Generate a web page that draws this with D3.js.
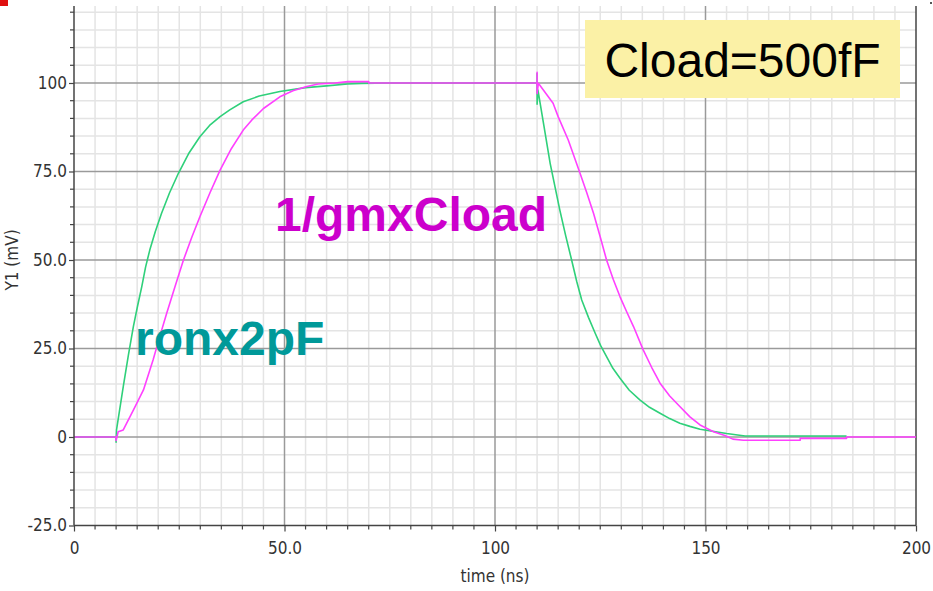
<!DOCTYPE html>
<html>
<head>
<meta charset="utf-8">
<script src="https://cdn.jsdelivr.net/npm/d3@7"></script>
<style>
  html, body { margin: 0; padding: 0; background: #ffffff; }
  svg { display: block; }
  .tick text { font-family: "DejaVu Sans Condensed", "DejaVu Sans", sans-serif; font-size: 17px; fill: #333; }
</style>
</head>
<body>
<svg id="chart" width="933" height="591"></svg>
<script>
// Transient response: output voltage Y1 (mV) versus time (ns)
const xTickValues = [0, 50, 100, 150, 200];
const xTickLabels = ["0", "50.0", "100", "150", "200"];
const yTickValues = [-25, 0, 25, 50, 75, 100];
const yTickLabels = ["-25.0", "0", "25.0", "50.0", "75.0", "100"];

// ron x 2pF trace
const ronTime = [0, 10, 10, 10.1, 11.7, 12.9, 14.1, 15.1, 16.1, 17, 18, 19.3, 20.8, 22.7, 24.8, 27.2, 29.9, 32.2, 34.7, 37, 40.2, 44, 48.9, 55, 60, 65, 68.3, 75,
  110, 110, 110, 110.2, 111.6, 113.1, 115.4, 116.8, 118.2, 119.4, 120.6, 122.2, 123.8, 125.1, 126.5, 128, 129.7, 131.9, 134.4, 136.7, 139.2, 141.5, 143.9, 146.3, 148.7, 155, 159.4, 183.5];
const ronValue = [0, 0, -1.5, 2, 14.2, 23, 31.2, 37, 42.5, 48, 52.8, 58, 63.2, 69, 74.5, 80, 84.8, 88, 90.5, 92.4, 94.7, 96.3, 97.6, 98.7, 99.2, 99.7, 99.9, 100,
  100, 102.7, 94, 98, 88, 77.3, 64.1, 56.8, 50, 44, 38.7, 33.8, 29.3, 25.8, 22.7, 19.4, 16.6, 13.2, 10.5, 8.4, 6.7, 5.2, 3.9, 3, 2.2, 1, 0.3, 0.3];

// 1/gm x Cload trace
const gmTime = [0, 10, 10, 10.5, 11.7, 14.1, 16.5, 18.8, 20.4, 22, 24, 26, 28, 29.9, 32.3, 34.7, 37.4, 40.2, 42.2, 45, 48.9, 52, 55.3, 58, 62, 65, 70, 70,
  110, 110, 110, 110.3, 113.8, 115, 117.4, 120.2, 121.8, 123.4, 125, 126.5, 128.1, 129.7, 131.3, 132.9, 135.2, 137.2, 139.2, 141.5, 143.9, 146.3, 148.7, 151.9, 154.6, 156.5, 159, 172.5, 172.5, 183.5, 183.5, 200];
const gmValue = [0, 0, -1, 1.5, 2, 7.6, 13.3, 21.8, 28.5, 34.9, 42.5, 50, 56.5, 62.2, 69, 75.4, 81.5, 86.7, 89.5, 92.8, 96.1, 97.8, 99, 99.7, 100, 100.4, 100.4, 100,
  100, 103, 97, 99.9, 94.3, 90.5, 83.9, 74.5, 69, 63.2, 56.5, 50, 44.5, 39.6, 35.3, 31.2, 24.6, 19.7, 15.2, 11.6, 8.6, 5.7, 3.4, 1.5, 0.4, -0.6, -0.9, -0.9, -0.4, -0.4, 0, 0];

const svg = d3.select("#chart");
const plotLeft = 74, plotRight = 916, plotTop = 6, plotBottom = 525.5;

const x = d3.scaleLinear().domain([0, 200]).range([plotLeft, plotRight]);
const y = d3.scaleLinear().domain([-25, 121.75]).range([plotBottom, plotTop]);

// corner markers
svg.append("rect").attr("x", 0).attr("y", 0).attr("width", 8).attr("height", 6).attr("fill", "#e01010");
svg.append("rect").attr("x", 930).attr("y", 2).attr("width", 2).attr("height", 2).attr("fill", "#555");

// minor grid every 5 units
const grid = svg.append("g");
d3.range(5, 200, 5).filter(v => v % 50 !== 0).forEach(v => {
  grid.append("line").attr("x1", x(v)).attr("x2", x(v)).attr("y1", plotTop).attr("y2", plotBottom)
    .attr("stroke", "#e4e4e4").attr("stroke-width", 1.5);
});
d3.range(-20, 122, 5).filter(v => v % 25 !== 0).forEach(v => {
  grid.append("line").attr("x1", plotLeft).attr("x2", plotRight).attr("y1", y(v)).attr("y2", y(v))
    .attr("stroke", "#e4e4e4").attr("stroke-width", 1.5);
});
// major grid
[50, 100, 150].forEach(v => {
  grid.append("line").attr("x1", x(v)).attr("x2", x(v)).attr("y1", plotTop).attr("y2", plotBottom)
    .attr("stroke", "#9a9a9a").attr("stroke-width", 1.5);
});
[0, 25, 50, 75, 100].forEach(v => {
  grid.append("line").attr("x1", plotLeft).attr("x2", plotRight).attr("y1", y(v)).attr("y2", y(v))
    .attr("stroke", "#9a9a9a").attr("stroke-width", 1.5);
});

// right border
svg.append("line").attr("x1", plotRight).attr("x2", plotRight).attr("y1", plotTop).attr("y2", plotBottom)
  .attr("stroke", "#444").attr("stroke-width", 1.5);

// traces
const line = d3.line().x(d => x(d[0])).y(d => y(d[1]));
const ronData = ronTime.map((t, i) => [t, ronValue[i]]);
const gmData = gmTime.map((t, i) => [t, gmValue[i]]);
svg.append("path").datum(ronData).attr("d", line).attr("fill", "none")
  .attr("stroke", "#2fd07a").attr("stroke-width", 1.6).attr("stroke-linejoin", "round");
svg.append("path").datum(gmData).attr("d", line).attr("fill", "none")
  .attr("stroke", "#ff40ff").attr("stroke-width", 1.6).attr("stroke-linejoin", "round");

// axes
const xAxis = d3.axisBottom(x).tickValues(xTickValues)
  .tickFormat((d, i) => xTickLabels[i]).tickSize(6).tickPadding(10);
const gx = svg.append("g").attr("transform", `translate(0,${plotBottom})`).call(xAxis);
const yAxis = d3.axisLeft(y).tickValues(yTickValues)
  .tickFormat((d, i) => yTickLabels[i]).tickSize(5).tickPadding(2);
const gy = svg.append("g").attr("transform", `translate(${plotLeft},0)`).call(yAxis);
[gx, gy].forEach(g => {
  g.select(".domain").attr("stroke", "#444").attr("stroke-width", 1.5);
  g.selectAll(".tick line").attr("stroke", "#444").attr("stroke-width", 1.2);
});
gy.select(".domain").attr("d", `M0,${plotTop}V${plotBottom}`);
gx.select(".domain").attr("d", `M${plotLeft},0H${plotRight}`);

// minor ticks
d3.range(5, 200, 5).filter(v => v % 50 !== 0).forEach(v => {
  svg.append("line").attr("x1", x(v)).attr("x2", x(v)).attr("y1", plotBottom).attr("y2", plotBottom + 4)
    .attr("stroke", "#444").attr("stroke-width", 1.2);
});
d3.range(-20, 122, 5).filter(v => v % 25 !== 0).forEach(v => {
  svg.append("line").attr("x1", plotLeft - 4).attr("x2", plotLeft).attr("y1", y(v)).attr("y2", y(v))
    .attr("stroke", "#444").attr("stroke-width", 1.2);
});

// axis titles
svg.append("text").attr("x", x(100)).attr("y", 582).attr("text-anchor", "middle")
  .style("font-family", "'DejaVu Sans Condensed', 'DejaVu Sans', sans-serif").style("font-size", "17px")
  .attr("fill", "#333").text("time (ns)");
svg.append("text").attr("transform", `translate(18,${y(50)}) rotate(-90)`).attr("text-anchor", "middle")
  .style("font-family", "'DejaVu Sans Condensed', 'DejaVu Sans', sans-serif").style("font-size", "17px")
  .attr("fill", "#333").text("Y1 (mV)");

// annotation box
svg.append("rect").attr("x", 585).attr("y", 20).attr("width", 315).attr("height", 78).attr("fill", "#fbf1a6");
svg.append("text").attr("x", 742.5).attr("y", 77).attr("text-anchor", "middle")
  .style("font-family", "'Liberation Sans', Arial, sans-serif").style("font-size", "48px")
  .attr("fill", "#000").text("Cload=500fF");

// trace labels
svg.append("text").attr("x", 275).attr("y", 231)
  .style("font-family", "'Liberation Sans', Arial, sans-serif").style("font-size", "48px").style("font-weight", "bold")
  .attr("fill", "#cc00cc").text("1/gmxCload");
svg.append("text").attr("x", 135).attr("y", 355)
  .style("font-family", "'Liberation Sans', Arial, sans-serif").style("font-size", "48px").style("font-weight", "bold")
  .attr("fill", "#009999").text("ronx2pF");
</script>
</body>
</html>
